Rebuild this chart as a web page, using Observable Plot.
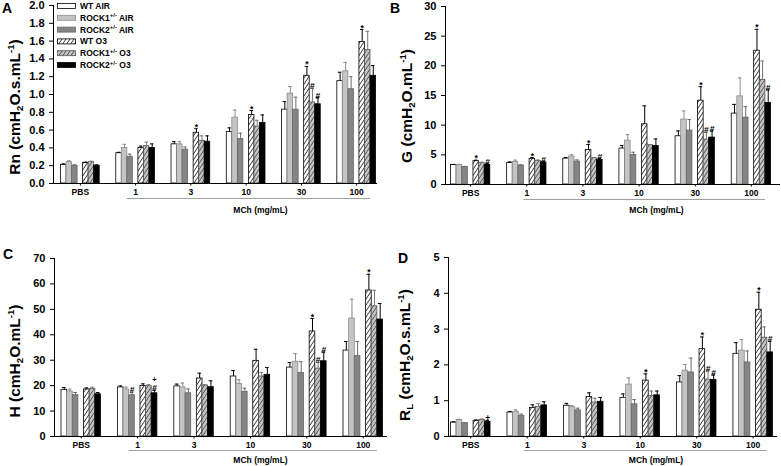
<!DOCTYPE html>
<html>
<head>
<meta charset="utf-8">
<script src="https://cdn.jsdelivr.net/npm/d3@7"></script>
<script src="https://cdn.jsdelivr.net/npm/@observablehq/plot@0.6"></script>
<style>
  body { margin: 0; background: #fff; font-family: "Liberation Sans", Arial, sans-serif; }
  #root { position: relative; width: 781px; height: 466px; overflow: hidden; background: #fff; }
  .panel { position: absolute; }
  .letter { position: absolute; font-weight: bold; font-size: 14px; line-height: 1; }
  .ytitle { position: absolute; font-weight: bold; font-size: 15.5px; line-height: 1; white-space: nowrap;
            transform: translate(-50%, -50%) rotate(-90deg); }
  .ytitle sub { font-size: 0.62em; vertical-align: -0.3em; }
  .ytitle sup { font-size: 0.62em; vertical-align: 0.6em; }
</style>
</head>
<body>
<div id="root">
  <svg width="0" height="0" style="position:absolute">
    <defs>
      <pattern id="hatchW" patternUnits="userSpaceOnUse" width="4" height="6">
        <rect width="4" height="6" fill="#fff"></rect>
        <path d="M0,6 L4,0 M-1,1.5 L1,-1.5 M3,7.5 L5,4.5" stroke="#000" stroke-width="0.8"></path>
      </pattern>
      <pattern id="hatchG" patternUnits="userSpaceOnUse" width="4" height="6">
        <rect width="4" height="6" fill="#c4c4c4"></rect>
        <path d="M0,6 L4,0 M-1,1.5 L1,-1.5 M3,7.5 L5,4.5" stroke="#333" stroke-width="0.8"></path>
      </pattern>
    </defs>
  </svg>
  <div id="pA" class="panel" style="left:0px;top:0px"></div>
  <div id="pB" class="panel" style="left:390px;top:0px"></div>
  <div id="pC" class="panel" style="left:0px;top:230px"></div>
  <div id="pD" class="panel" style="left:390px;top:230px"></div>

  <div class="letter" style="left:2px;top:1px">A</div>
  <div class="letter" style="left:390px;top:1px">B</div>
  <div class="letter" style="left:3px;top:247px">C</div>
  <div class="letter" style="left:398px;top:251px">D</div>

  <div class="ytitle" style="left:15px;top:107px">Rn (cmH<sub>2</sub>O.s.mL<sup>-1</sup>)</div>
  <div class="ytitle" style="left:407px;top:106px">G (cmH<sub>2</sub>O.mL<sup>-1</sup>)</div>
  <div class="ytitle" style="left:15px;top:361px">H (cmH<sub>2</sub>O.mL<sup>-1</sup>)</div>
  <div class="ytitle" style="left:405px;top:355px">R<sub>L</sub> (cmH<sub>2</sub>O.s.mL<sup>-1</sup>)</div>

  <svg id="legend" width="160" height="75" style="position:absolute;left:0;top:0;font-family:'Liberation Sans',Arial,sans-serif;font-weight:bold;font-size:8.5px"></svg>
</div>

<script>
// ---------- data ----------
const groups = ["PBS", "1", "3", "10", "30", "100"];
const seriesNames = ["WT AIR", "ROCK1+/- AIR", "ROCK2+/- AIR", "WT O3", "ROCK1+/- O3", "ROCK2+/- O3"];

// Rn (panel A): rows = series, columns = groups
const rnMeans = [
  [0.21, 0.34, 0.44, 0.58, 0.83, 1.15],
  [0.24, 0.40, 0.44, 0.74, 1.01, 1.26],
  [0.20, 0.30, 0.38, 0.50, 0.83, 1.06],
  [0.23, 0.40, 0.57, 0.77, 1.21, 1.59],
  [0.24, 0.42, 0.48, 0.64, 0.91, 1.50],
  [0.20, 0.40, 0.47, 0.68, 0.89, 1.21]
];
const rnErrors = [
  [0.010, 0.010, 0.030, 0.045, 0.090, 0.100],
  [0.015, 0.040, 0.030, 0.085, 0.080, 0.100],
  [0.010, 0.030, 0.030, 0.065, 0.140, 0.140],
  [0.010, 0.020, 0.045, 0.050, 0.105, 0.140],
  [0.010, 0.045, 0.055, 0.070, 0.160, 0.210],
  [0.010, 0.045, 0.065, 0.090, 0.075, 0.115]
];
const rnTicks = [0, 0.2, 0.4, 0.6, 0.8, 1.0, 1.2, 1.4, 1.6, 1.8, 2.0];
const rnNotes = [["3", 3, "*"], ["10", 3, "*"], ["30", 3, "*"], ["30", 4, "#"], ["30", 5, "#"], ["100", 3, "*"]];

// G (panel B)
const gMeans = [
  [3.30, 3.65, 4.37, 6.06, 8.13, 11.95],
  [3.30, 3.81, 4.71, 7.40, 10.94, 14.86],
  [2.97, 3.20, 3.87, 4.99, 9.09, 11.27],
  [3.93, 4.32, 5.83, 10.15, 14.13, 22.55],
  [3.65, 3.98, 4.43, 6.62, 7.57, 17.61],
  [3.30, 3.70, 4.15, 6.50, 7.91, 13.74]
];
const gErrors = [
  [0.08, 0.15, 0.17, 0.50, 0.90, 1.55],
  [0.10, 0.30, 0.30, 1.00, 1.45, 3.10],
  [0.08, 0.10, 0.28, 0.45, 1.85, 1.85],
  [0.17, 0.22, 0.90, 3.10, 2.36, 3.60],
  [0.10, 0.15, 0.12, 0.11, 1.23, 3.20],
  [0.20, 0.17, 0.22, 1.18, 1.12, 2.20]
];
const gTicks = [0, 5, 10, 15, 20, 25, 30];
const gNotes = [["PBS", 3, "*"], ["PBS", 5, "#"], ["1", 3, "*"], ["1", 5, "#"], ["3", 3, "*"], ["3", 5, "#"],
                ["30", 3, "*"], ["30", 4, "#"], ["30", 5, "#"], ["100", 3, "*"], ["100", 5, "#"]];

// H (panel C)
const hMeans = [
  [18.35, 19.30, 19.70, 23.60, 27.10, 33.80],
  [17.70, 18.50, 19.30, 20.70, 29.40, 46.40],
  [16.25, 16.25, 17.00, 17.60, 25.00, 31.70],
  [18.50, 19.90, 22.80, 29.75, 41.30, 57.40],
  [18.70, 19.80, 20.05, 23.60, 26.70, 51.20],
  [16.60, 17.00, 19.40, 24.25, 29.60, 46.00]
];
const hErrors = [
  [0.90, 0.60, 0.90, 2.35, 2.00, 3.55],
  [0.90, 0.90, 1.70, 1.60, 3.20, 7.60],
  [1.05, 1.15, 1.70, 1.40, 4.40, 5.65],
  [0.60, 0.80, 2.10, 4.55, 5.10, 6.40],
  [0.70, 0.60, 0.30, 1.60, 2.50, 6.30],
  [0.70, 1.20, 2.50, 2.85, 3.60, 6.30]
];
const hTicks = [0, 10, 20, 30, 40, 50, 60, 70];
const hNotes = [["1", 2, "#"], ["1", 5, "#"], ["1", 5, "+", 1], ["30", 3, "*"], ["30", 4, "#"], ["30", 5, "#"], ["100", 3, "*"]];

// RL (panel D)
const rlMeans = [
  [0.39, 0.67, 0.86, 1.08, 1.51, 2.31],
  [0.46, 0.69, 0.82, 1.45, 1.84, 2.40],
  [0.37, 0.57, 0.73, 0.90, 1.79, 2.07],
  [0.44, 0.80, 1.10, 1.56, 2.44, 3.54],
  [0.46, 0.83, 0.95, 1.13, 1.59, 2.76],
  [0.41, 0.87, 0.97, 1.15, 1.58, 2.35]
];
const rlErrors = [
  [0.02, 0.03, 0.065, 0.11, 0.19, 0.31],
  [0.02, 0.055, 0.04, 0.19, 0.17, 0.31],
  [0.02, 0.055, 0.06, 0.13, 0.40, 0.32],
  [0.02, 0.085, 0.12, 0.19, 0.34, 0.49],
  [0.03, 0.09, 0.12, 0.14, 0.25, 0.30],
  [0.04, 0.10, 0.12, 0.12, 0.14, 0.31]
];
const rlTicks = [0, 1, 2, 3, 4, 5];
const rlNotes = [["PBS", 5, "+"], ["10", 3, "*"], ["30", 3, "*"], ["30", 4, "#"], ["30", 5, "#"], ["100", 3, "*"], ["100", 5, "#"]];

const xTitle = "MCh (mg/mL)";

// ---------- layout / styles ----------
const seriesSlot = [0, 1, 2, 4, 5, 6];
const seriesStyle = [
  {fill: "#ffffff", stroke: "#000", err: "#000"},
  {fill: "#c4c4c4", stroke: "#8c8c8c", err: "#8c8c8c"},
  {fill: "#858585", stroke: "#666", err: "#6a6a6a"},
  {fill: "url(#hatchW)", stroke: "#000", err: "#000"},
  {fill: "url(#hatchG)", stroke: "#555", err: "#777"},
  {fill: "#000000", stroke: "#000", err: "#000"}
];
const key = (g, s) => g + "|" + s;
const slotDomain = groups.flatMap((g, gi) => d3.range(gi === groups.length - 1 ? 7 : 10).map(s => key(g, s)));

function makePanel(cfg) {
  const rows = [];
  cfg.means.forEach((arr, si) => arr.forEach((v, gi) => rows.push({
    si, key: key(groups[gi], seriesSlot[si]), mean: v, top: v + cfg.errors[si][gi]
  })));
  const notes = cfg.notes.map(([g, si, sym, lvl]) => {
    const gi = groups.indexOf(g);
    return {key: key(g, seriesSlot[si]), top: cfg.means[si][gi] + cfg.errors[si][gi], sym, lvl: lvl || 0};
  });
  const marks = [];
  for (let si = 0; si < 6; si++) {
    const r = rows.filter(d => d.si === si), st = seriesStyle[si];
    marks.push(Plot.barY(r, {x: "key", y: "mean", fill: st.fill, stroke: st.stroke, strokeWidth: 0.8}));
  }
  for (let si = 0; si < 6; si++) {
    const r = rows.filter(d => d.si === si), st = seriesStyle[si];
    marks.push(Plot.ruleX(r, {x: "key", y1: "mean", y2: "top", stroke: st.err, strokeWidth: 1}));
    marks.push(Plot.tickY(r, {x: "key", y: "top", stroke: st.err, strokeWidth: 1, insetLeft: 1, insetRight: 1}));
  }
  marks.push(Plot.text(notes.filter(d => d.lvl === 0), {x: "key", y: "top", text: "sym", lineAnchor: "bottom", dy: 1, fontSize: 8.5, fontWeight: "bold", fill: "#000"}));
  marks.push(Plot.text(notes.filter(d => d.lvl === 1), {x: "key", y: "top", text: "sym", lineAnchor: "bottom", dy: -8.5, fontSize: 7.5, fontWeight: "bold", fill: "#000"}));
  // axes
  marks.push(Plot.ruleY([0], {stroke: "#000", strokeWidth: 1}));
  marks.push(Plot.ruleY([{y: 0, a: key("1", cfg.subFrom), b: key("100", cfg.subTo)}], {y: "y", x1: "a", x2: "b", dy: cfg.subDy, stroke: "#a0a0a0", strokeWidth: 1}));
  marks.push(Plot.axisY({ticks: cfg.ticks, tickFormat: cfg.fmt, tickSize: 4, tickPadding: 5, fontSize: 11, fontWeight: "bold", label: null, fill: "#000"}));
  marks.push(Plot.axisX({ticks: groups.map(g => key(g, 3)), tickFormat: k => k.split("|")[0], tickSize: 2.5, tickPadding: 2.5, fontSize: 8.5, fontWeight: "bold", label: null, fill: "#000"}));
  marks.push(Plot.text([xTitle], {text: d => d, frameAnchor: "bottom", dx: cfg.titleDx, dy: cfg.titleDy, lineAnchor: "middle", fontSize: 8.5, fontWeight: "bold", fill: "#000"}));
  marks.push((index, scales, values, dims) => {
    const l = document.createElementNS("http://www.w3.org/2000/svg", "line");
    l.setAttribute("x1", dims.marginLeft + 0.5); l.setAttribute("x2", dims.marginLeft + 0.5);
    l.setAttribute("y1", dims.marginTop); l.setAttribute("y2", dims.height - dims.marginBottom);
    l.setAttribute("stroke", "#000");
    return l;
  });
  const lead = cfg.lead, trail = cfg.trail;
  const plot = Plot.plot({
    width: cfg.width, height: cfg.height,
    marginLeft: cfg.ml, marginRight: cfg.mr, marginTop: cfg.mt, marginBottom: cfg.mb,
    style: {fontFamily: "'Liberation Sans', Arial, sans-serif", color: "#000", background: "transparent", overflow: "visible"},
    x: {type: "band", domain: slotDomain, paddingInner: 0, paddingOuter: (lead + trail) / 2, align: lead / (lead + trail), round: false, axis: null},
    y: {domain: [0, cfg.ticks[cfg.ticks.length - 1]], axis: null},
    marks
  });
  document.getElementById(cfg.id).appendChild(plot);
}

makePanel({id: "pA", means: rnMeans, errors: rnErrors, notes: rnNotes, ticks: rnTicks, fmt: d3.format(".1f"),
  width: 390, height: 230, ml: 53, mr: 13, mt: 5, mb: 47, lead: 1.36, trail: 0.27,
  subFrom: 2, subTo: 5, subDy: 15, titleDx: 45, titleDy: 27});
makePanel({id: "pB", means: gMeans, errors: gErrors, notes: gNotes, ticks: gTicks, fmt: d3.format("d"),
  width: 391, height: 230, ml: 55, mr: 1, mt: 6, mb: 46, lead: 0.98, trail: 1.69,
  subFrom: 3, subTo: 5, subDy: 15, titleDx: 43.5, titleDy: 26});
makePanel({id: "pC", means: hMeans, errors: hErrors, notes: hNotes, ticks: hTicks, fmt: d3.format("d"),
  width: 390, height: 236, ml: 54, mr: 3, mt: 28, mb: 30, lead: 1.24, trail: 0.8,
  subFrom: 2, subTo: 5, subDy: 14, titleDx: 39.5, titleDy: 24});
makePanel({id: "pD", means: rlMeans, errors: rlErrors, notes: rlNotes, ticks: rlTicks, fmt: d3.format("d"),
  width: 391, height: 236, ml: 58, mr: 4, mt: 27, mb: 30, lead: 0.44, trail: 0.8,
  subFrom: 3, subTo: 5, subDy: 14, titleDx: 43, titleDy: 24});

// ---------- legend (panel A) ----------
const legend = d3.select("#legend");
const rowY = [6, 17.8, 29.6, 41.4, 53.2, 65];
seriesNames.forEach((name, i) => {
  const st = seriesStyle[i];
  legend.append("rect").attr("x", 57.5).attr("y", rowY[i] - 2.5).attr("width", 18).attr("height", 5)
    .attr("fill", st.fill).attr("stroke", st.stroke).attr("stroke-width", 0.8);
  const t = legend.append("text").attr("x", 80).attr("y", rowY[i] + 3);
  const m = name.match(/^(\S+?)(\+\/-)?( .*)$/);
  t.append("tspan").text(m[1]);
  if (m[2]) {
    t.append("tspan").attr("dy", -3.5).attr("font-size", 6).text(m[2]);
    t.append("tspan").attr("dy", 3.5).text(m[3]);
  } else {
    t.append("tspan").text(m[3]);
  }
});
</script>
</body>
</html>
